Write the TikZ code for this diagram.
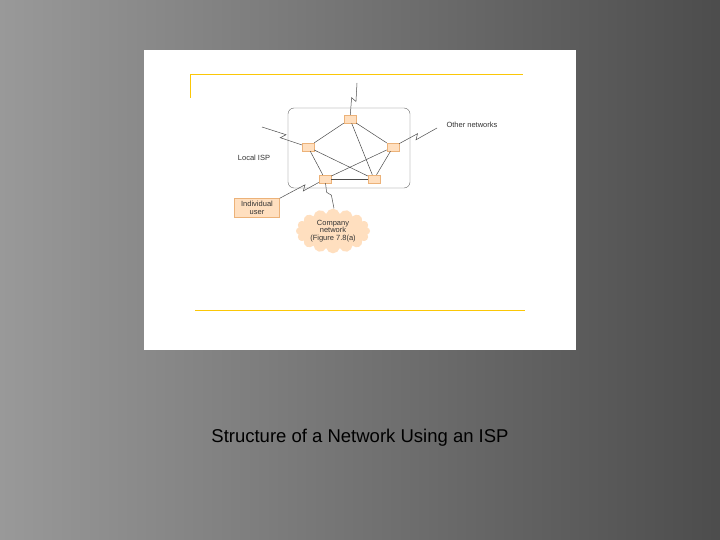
\documentclass[tikz,border=0pt]{standalone}
\usepackage{fontspec}
\setmainfont{Liberation Sans}
\usetikzlibrary{calc,shapes.symbols}
\newcommand\mybolt[2]{\draw[wire] (#1) -- ($(#1)!0.5!(#2)!2.5pt!90:(#2)$) -- ($(#1)!0.42!(#2)!-2.5pt!90:(#2)$) -- (#2);}
\begin{document}
\begin{tikzpicture}[x=1pt,y=-1pt,
  rt/.style={draw=orange!50!brown!60,fill=orange!25,minimum width=12pt,minimum height=8pt,inner sep=0pt},
  wire/.style={draw=black!70,line width=0.5pt},
  lbl/.style={font=\fontsize{7.5}{7.5}\selectfont,text=black!80,align=center},
  goldl/.style={draw=yellow!60!orange,line width=0.8pt}]
\useasboundingbox (0,0) rectangle (720,540);
\shade[left color=black!40,right color=black!70] (0,0) rectangle (720,540);
\fill[white] (144,50) rectangle (576,350);
\draw[goldl] (190,98) -- (190,74) -- (523,74);
\draw[goldl] (195,310) -- (525,310);
\draw[black!60,rounded corners=6pt] (288,108) rectangle (410,188);
\node[rt] (t) at (350,119) {};
\node[rt] (l) at (308,147) {};
\node[rt] (r) at (393,147) {};
\node[rt] (bl) at (325,179) {};
\node[rt] (br) at (374,179) {};
\foreach \a/\b in {t/l,t/r,t/br,l/bl,l/br,r/bl,r/br,bl/br}
  \draw[wire] (\a) -- (\b);
\coordinate (ct) at (357,83);
\coordinate (cl) at (262,127);
\coordinate (cr) at (437,128);
\node[lbl,anchor=west] (on) at (443,125) {Other networks};
\node[lbl] (isp) at (254,158) {Local ISP};
\node[rt,minimum width=45pt,minimum height=19pt,lbl] (iu) at (257,208) {Individual\\user};
\node[cloud,cloud puffs=16,aspect=1.8,fill=orange!25,draw=none,lbl,inner sep=0pt,minimum width=74pt,minimum height=40pt] (cn) at (333,231) {Company\\network\\(Figure 7.8(a)};
\mybolt{ct}{t}
\mybolt{cl}{l}
\mybolt{cr}{r}
\mybolt{bl}{iu.north east}
\draw[wire] (bl) -- ($(bl)!0.45!(cn.north)+(-2,0)$) -- ($(bl)!0.55!(cn.north)+(2,0)$) -- ($(cn.north)+(1,0)$);
\node[font=\fontsize{18.5}{21}\selectfont,text=black] (cap) at (360,438) {Structure of a Network Using an ISP};
\end{tikzpicture}
\end{document}
